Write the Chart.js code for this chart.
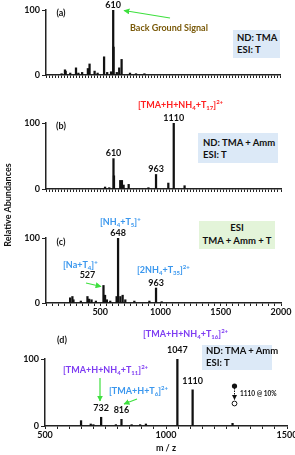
<!DOCTYPE html>
<html>
<head>
<meta charset="utf-8">
<script src="https://cdn.jsdelivr.net/npm/chart.js@4.4.1/dist/chart.umd.min.js"></script>
<style>
  html, body { margin: 0; padding: 0; background: #fff; }
  #wrap { position: relative; width: 295px; height: 455px; overflow: hidden;
          font-family: Lato, "Open Sans", sans-serif; font-weight: 700; color: #111; }
  #wrap canvas { position: absolute; left: 0; top: 0; }
  #wrap svg { position: absolute; left: 0; top: 0; }
  .t { position: absolute; white-space: nowrap; font-size: 9px; line-height: 10px; transform: translateY(-50%); }
  .c { transform: translate(-50%, -50%); }
  .box { position: absolute; background: #dce9f7; font-size: 9.5px; line-height: 12px; box-sizing: border-box; white-space: nowrap; }
  .red { color: #ff1f1f; }
  .blue { color: #3a97ee; }
  .purple { color: #7e3cf2; }
  sub, sup { font-size: 6px; line-height: 0; position: relative; vertical-align: baseline; }
  sub { top: 2px; }
  sup { top: -4px; }
</style>
</head>
<body>
<div id="wrap">
  <canvas id="ca" width="295" height="455"></canvas>
  <canvas id="cb" width="295" height="455"></canvas>
  <canvas id="cc" width="295" height="455"></canvas>
  <canvas id="cd" width="295" height="455"></canvas>

  <svg width="295" height="455">
    <defs>
      <marker id="ga" viewBox="0 0 10 10" refX="9" refY="5" markerWidth="5" markerHeight="5" orient="auto">
        <path d="M0,0 L10,5 L0,10 z" fill="#3ee03e"/>
      </marker>
      <marker id="ka" viewBox="0 0 10 10" refX="9" refY="5" markerWidth="5" markerHeight="5" orient="auto">
        <path d="M0,0 L10,5 L0,10 z" fill="#111"/>
      </marker>
    </defs>
    <g stroke="#3ee03e" stroke-width="1.2" fill="none" marker-end="url(#ga)">
      <line x1="170" y1="18" x2="124" y2="10.5"/>
      <line x1="86" y1="283" x2="101" y2="286.5"/>
      <line x1="100" y1="378" x2="100" y2="401"/>
      <line x1="137" y1="399" x2="124" y2="404"/>
    </g>
    <circle cx="234.5" cy="386" r="2.6" fill="#111"/>
    <line x1="234.5" y1="388" x2="234.5" y2="399.5" stroke="#111" stroke-width="1" stroke-dasharray="1.5,1" marker-end="url(#ka)"/>
    <circle cx="234.5" cy="403.5" r="2.4" fill="#fff" stroke="#111" stroke-width="1"/>
  </svg>

  <div class="t" style="left:8px;top:205px;transform:translate(-50%,-50%) rotate(-90deg);">Relative Abundances</div>

  <!-- (a) -->
  <div class="t c" style="left:61px;top:13px;">(a)</div>
  <div class="t" style="left:130px;top:28px;color:#7a5a0a;">Back Ground Signal</div>
  <div class="box" style="left:233px;top:30px;width:47px;height:28px;padding:2px 0 0 4px;">ND: TMA<br>ESI: T</div>

  <!-- (b) -->
  <div class="t red" style="left:138px;top:105px;">[TMA+H+NH<sub>4</sub>+T<sub>17</sub>]<sup>2+</sup></div>
  <div class="t c" style="left:61px;top:126px;">(b)</div>
  <div class="box" style="left:198px;top:133px;width:80px;height:30px;padding:4px 0 0 5px;">ND: TMA + Amm<br>ESI: T</div>

  <!-- (c) -->
  <div class="t c" style="left:61px;top:242px;">(c)</div>
  <div class="t blue" style="left:100px;top:222px;">[NH<sub>4</sub>+T<sub>5</sub>]<sup>+</sup></div>
  <div class="t blue" style="left:63px;top:265px;">[Na+T<sub>4</sub>]<sup>+</sup></div>
  <div class="t blue" style="left:137px;top:270px;">[2NH<sub>4</sub>+T<sub>35</sub>]<sup>2+</sup></div>
  <div class="box" style="left:199px;top:221px;width:76px;height:28px;padding-top:1px;text-align:center;line-height:12.5px;background:#e3f4d9;">ESI<br>TMA + Amm + T</div>

  <!-- (d) -->
  <div class="t c" style="left:62px;top:340px;">(d)</div>
  <div class="t purple" style="left:143px;top:334px;">[TMA+H+NH<sub>4</sub>+T<sub>16</sub>]<sup>2+</sup></div>
  <div class="t purple" style="left:63px;top:370px;">[TMA+H+NH<sub>4</sub>+T<sub>11</sub>]<sup>2+</sup></div>
  <div class="t blue" style="left:109px;top:391px;">[TMA+H+T<sub>6</sub>]<sup>2+</sup></div>
  <div class="box" style="left:202px;top:345px;width:70px;height:25px;padding:0 0 0 4px;line-height:11.5px;">ND: TMA + Amm<br>ESI: T</div>
  <div class="t" style="left:240px;top:394px;font-size:6.5px;">1110 @ 10%</div>
</div>

<script>
// (a) ND: TMA, ESI: T
const mzA = [180, 208, 214, 252, 300, 320, 351, 399, 413, 455, 480, 534, 560, 592, 610, 613, 640, 660, 680, 750, 800, 870];
const abA = [2, 8, 6, 3, 11, 3, 4, 10, 17, 6, 3, 28, 4, 5, 100, 43, 4, 11, 24, 3, 2, 2];
const peaksA = [610];

// (b) ND: TMA + Amm, ESI: T
const mzB = [540, 575, 610, 614, 666, 680, 694, 736, 900, 963, 1065, 1110, 1200];
const abB = [3, 2, 46, 20, 13, 13, 6, 7, 2, 22, 9, 100, 5];
const peaksB = [610, 963, 1110];

// (c) ESI: TMA + Amm + T
const mzC = [250, 269, 278, 339, 394, 408, 428, 464, 527, 540, 555, 583, 636, 648, 667, 686, 708, 783, 908, 963, 1010];
const abC = [8, 10, 5, 3, 10, 6, 5, 3, 27, 12, 5, 3, 10, 100, 10, 12, 5, 3, 3, 23, 2];
const peaksC = [527, 648, 963];

// (d) ND: TMA + Amm, ESI: T
const mzD = [649, 689, 700, 732, 793, 816, 858, 893, 917, 1047, 1110, 1275];
const abD = [8, 3, 2, 13, 2, 10, 2, 2, 3, 100, 54, 4];
const peaksD = [732, 816, 1047, 1110];

const FONT = { family: 'Lato', weight: 'bold', size: 9 };
const INK = '#222';

const peakLabels = {
  id: 'peakLabels',
  afterDatasetsDraw(chart, args, opts) {
    const { ctx, scales: { x, y } } = chart;
    const pts = chart.data.datasets[0].data;
    ctx.save();
    ctx.font = 'bold 9px Lato';
    ctx.fillStyle = '#111';
    ctx.textAlign = 'center';
    ctx.textBaseline = 'alphabetic';
    opts.peaks.forEach(m => {
      const p = pts.find(d => d.x === m);
      const off = (opts.offsets && opts.offsets[m]) || [0, opts.gap];
      ctx.fillText(String(m), x.getPixelForValue(m) + off[0], y.getPixelForValue(p.y) - off[1]);
    });
    ctx.restore();
  }
};

function spectrum(id, mz, ab, peaks, a) {
  const pts = mz.map((m, i) => ({ x: m, y: ab[i] }));
  return new Chart(document.getElementById(id), {
    type: 'bar',
    data: {
      datasets: [{
        data: pts,
        backgroundColor: '#111',
        borderWidth: 0,
        barThickness: 1.6
      }]
    },
    options: {
      responsive: false,
      animation: false,
      events: [],
      layout: { padding: { top: a.top, right: 295 - a.right, left: 0, bottom: 0 } },
      plugins: {
        legend: { display: false },
        tooltip: { enabled: false },
        peakLabels: { peaks: peaks, gap: a.gap, offsets: a.offsets }
      },
      scales: {
        x: {
          type: 'linear',
          min: a.xmin,
          max: a.xmax,
          offset: false,
          grid: { offset: false, drawOnChartArea: false, tickLength: 3, tickColor: INK, tickWidth: 1 },
          border: { color: INK, width: 1.5 },
          ticks: {
            stepSize: a.step,
            autoSkip: false,
            minRotation: 0,
            maxRotation: 0,
            padding: 1,
            font: FONT,
            color: '#111',
            callback: v => (a.labels && v % 500 === 0) ? v : ''
          },
          title: a.title ? { display: true, text: a.title, font: FONT, color: '#111', padding: { top: 0, bottom: 2 } } : { display: false },
          afterFit(s) { s.height = 455 - a.bottom; s.paddingLeft = 0; s.paddingRight = 0; }
        },
        y: {
          min: 0,
          max: 100,
          grid: { drawOnChartArea: false, tickLength: 4, tickColor: INK },
          border: { color: INK, width: 1.5 },
          ticks: { stepSize: 100, padding: 2, font: FONT, color: '#111' },
          afterFit(s) { s.width = a.left; s.paddingTop = 0; s.paddingBottom = 0; }
        }
      }
    },
    plugins: [peakLabels]
  });
}

spectrum('ca', mzA, abA, peaksA, { top: 10, bottom: 75, left: 46, right: 280, xmin: 50, xmax: 2000, step: 25, gap: 2.5 });
spectrum('cb', mzB, abB, peaksB, { top: 123, bottom: 189, left: 46, right: 281, xmin: 50, xmax: 2000, step: 25, gap: 2.5 });
spectrum('cc', mzC, abC, peaksC, { top: 238, bottom: 303, left: 46, right: 281, xmin: 50, xmax: 2000, step: 50, gap: 2.5, labels: true,
  offsets: { 527: [-16, 7] } });
spectrum('cd', mzD, abD, peaksD, { top: 359, bottom: 426, left: 45, right: 287, xmin: 500, xmax: 1500, step: 50, gap: 6, labels: true, title: 'm / z' });
</script>
</body>
</html>
